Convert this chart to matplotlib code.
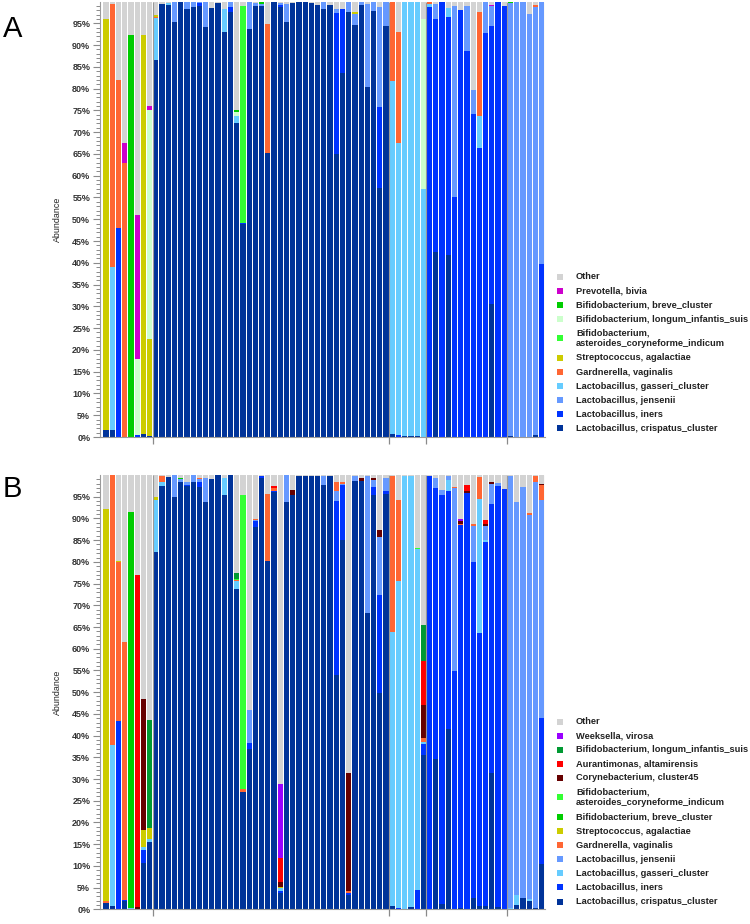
import numpy as np
import matplotlib
matplotlib.use("Agg")
import matplotlib.pyplot as plt
from matplotlib.patches import Rectangle

plt.rcParams['font.family'] = ['Liberation Sans', 'DejaVu Sans']

# ---------------- Panel A data (71 samples, % abundance) ----------------
cri_A = [1.5, 1.5, 0, 0, 0, 0, 0.6, 0.3,
         86.5, 99.5, 99.3, 95.3, 99.8, 98.2, 98.8, 99.0, 94.2, 98.5,
         99.7, 93.0, 97.6, 72.0, 49.0, 93.6, 98.9, 99.0, 65.3, 99.8,
         98.8, 95.2, 99.6, 99.9, 99.9, 99.6, 99.2, 98.2, 99.1, 65.0,
         83.5, 97.7, 94.6, 99.2, 80.3, 97.8, 57.2, 94.4,
         0.7, 0, 0.2, 0.2, 0.2, 0,
         0, 42.5, 0, 41.9, 0, 0, 0, 0, 0, 0, 30.6, 0, 0,
         0.3, 0, 0, 0, 0.5, 0]
ine_A = [0, 0, 48.0, 0, 0, 0.5, 0, 0,
         0, 0, 0, 0, 0, 0, 0, 0.7, 0, 0,
         0, 0, 1.2, 0, 0.2, 0, 0, 0, 0, 0,
         0.5, 0, 0, 0, 0, 0, 0, 0, 0, 32.3,
         14.7, 0, 0, 0, 0, 0, 18.5, 0,
         0, 0.5, 0, 0, 0, 0,
         98.8, 53.5, 99.8, 54.5, 55.0, 98.0, 88.7, 74.2, 66.4, 92.7, 63.7, 100.0, 99.0,
         0, 0, 0, 0, 0, 39.8]
jen_A = [0, 0, 0, 0, 0, 0, 0, 0,
         0, 0, 0, 4.7, 0, 1.6, 1.2, 0.3, 5.8, 0,
         0, 0, 1.2, 0, 0, 6.4, 0.8, 0.5, 0, 0,
         0.4, 4.2, 0, 0, 0, 0, 0, 1.7, 0, 1.0,
         0, 2.2, 2.6, 0.6, 19.2, 2.0, 23.0, 5.6,
         0, 0, 0, 0, 0, 0,
         0, 3.5, 0, 0, 44.0, 0, 10.3, 5.4, 0, 7.1, 4.7, 0, 0,
         99.4, 100.0, 99.8, 97.2, 98.3, 60.2]
gas_A = [0, 37.5, 0, 0, 0, 0, 0, 0,
         9.8, 0, 0.3, 0, 0, 0, 0, 0, 0, 0,
         0, 5.2, 0, 1.6, 0, 0, 0, 0, 0, 0,
         0, 0, 0, 0, 0, 0, 0, 0, 0, 0,
         0, 0, 0, 0, 0, 0, 0, 0,
         81.1, 67.0, 99.6, 99.6, 99.8, 57.0,
         0.6, 0, 0, 2.1, 0, 0, 0, 0, 7.2, 0, 0, 0, 0,
         0, 0, 0, 0, 0, 0]
gar_A = [0, 60.5, 34.0, 63.0, 0, 0, 0, 0,
         0.2, 0, 0, 0, 0, 0, 0, 0, 0, 0,
         0, 0, 0, 0, 0, 0, 0, 0, 29.5, 0,
         0, 0, 0, 0, 0, 0, 0, 0, 0, 0,
         0, 0, 0, 0, 0, 0, 0, 0,
         18.2, 25.5, 0, 0, 0, 0,
         0.6, 0, 0, 0, 0, 0, 0, 0, 23.9, 0, 0, 0, 0,
         0, 0, 0, 0, 0.5, 0]
strep_A = [94.5, 0, 0, 0, 0, 0, 91.7, 22.2,
           0.4, 0, 0, 0, 0, 0, 0, 0, 0, 0,
           0, 0, 0, 0, 0, 0, 0, 0, 0, 0,
           0, 0, 0, 0, 0, 0, 0, 0, 0, 0,
           0, 0, 0.3, 0, 0, 0, 0, 0,
           0, 0, 0, 0, 0, 0,
           0, 0, 0, 0, 0, 0, 0, 0, 0, 0, 0, 0, 0,
           0, 0, 0, 0, 0, 0]
ast_A = [0, 0, 0, 0, 0, 0, 0, 0,
         0, 0, 0, 0, 0, 0, 0, 0, 0, 0,
         0, 0, 0, 0, 49.8, 0, 0, 0, 0, 0,
         0, 0, 0, 0, 0, 0, 0, 0, 0, 0,
         0, 0, 0, 0, 0, 0, 0, 0,
         0, 0, 0, 0, 0, 0,
         0, 0, 0, 0, 0, 0, 0, 0, 0, 0, 0, 0, 0,
         0, 0, 0, 0, 0, 0]
lon_A = [0, 0, 0, 0, 0, 17.5, 0, 52.5,
         0, 0, 0, 0, 0, 0, 0, 0, 0, 0,
         0, 0, 0, 1.0, 0, 0, 0, 0, 0, 0,
         0, 0, 0, 0, 0, 0, 0, 0, 0, 0,
         0, 0, 0, 0, 0, 0, 0, 0,
         0, 0, 0, 0, 0, 39.0,
         0, 0, 0, 0, 0, 0, 0, 0, 0, 0, 0, 0, 0,
         0, 0, 0, 0, 0, 0]
bre_A = [0, 0, 0, 0, 92.3, 0, 0, 0,
         0, 0, 0, 0, 0, 0, 0, 0, 0, 0,
         0, 0, 0, 0.5, 0, 0, 0, 0.3, 0, 0,
         0, 0, 0, 0, 0, 0, 0, 0, 0, 0,
         0, 0, 0, 0, 0, 0, 0, 0,
         0, 0, 0, 0, 0, 0,
         0, 0, 0, 0, 0, 0, 0, 0, 0, 0, 0, 0, 0,
         0.3, 0, 0, 0, 0, 0]
prev_A = [0, 0, 0, 4.5, 0, 33.0, 0, 1.0,
          0, 0, 0, 0, 0, 0, 0, 0, 0, 0,
          0, 0, 0, 0, 0, 0, 0, 0, 0, 0,
          0, 0, 0, 0, 0, 0, 0, 0, 0, 0,
          0, 0, 0, 0, 0, 0, 0, 0,
          0, 0, 0, 0, 0, 0,
          0, 0, 0, 0, 0, 0, 0, 0, 0, 0, 0.3, 0, 0,
          0, 0, 0, 0, 0, 0]

# ---------------- Panel B data ----------------
cri_B = [1.5, 0.7, 0, 1.8, 0, 0, 10.6, 15.6,
         82.2, 97.5, 99.5, 95.0, 98.5, 97.5, 98.5, 97.3, 93.8, 99.0,
         99.9, 95.3, 99.9, 73.8, 27.0, 37.0, 88.0, 99.3, 80.2, 96.0,
         3.8, 93.7, 95.5, 99.8, 99.8, 99.8, 99.8, 97.6, 99.8, 54.0,
         85.0, 3.2, 98.6, 98.7, 68.2, 95.5, 49.7, 95.6,
         0.7, 0, 0, 0.5, 0, 35.5,
         0, 34.5, 1.3, 41.5, 0, 0.2, 0, 2.5, 0.7, 0.8, 31.3, 0.5, 0,
         0, 1.0, 2.5, 2.0, 0.2, 10.5]
ine_B = [0, 0, 43.4, 0.4, 0, 0, 3.1, 0,
         0, 0, 0, 0, 0, 0.3, 0, 1.0, 0, 0,
         0, 0, 0, 0, 0, 1.3, 1.3, 0.4, 0, 0.3,
         0.5, 0, 0, 0, 0, 0, 0, 0, 0, 40.0,
         12.7, 0.5, 0, 0, 0, 1.7, 22.7, 0.7,
         0, 0.3, 0, 0, 4.4, 2.5,
         99.8, 62.4, 94.2, 54.8, 54.8, 88.2, 95.8, 77.5, 62.9, 83.7, 62.0, 96.9, 96.8,
         0, 0, 0, 0, 0, 33.5]
gas_B = [0, 37.1, 0, 0, 0.2, 0, 0.6, 0.7,
         12.1, 1.0, 0, 0, 0, 0, 0, 0, 0, 0,
         0, 4.0, 0, 1.7, 0, 0, 0, 0, 0, 0,
         0.5, 0, 0, 0, 0, 0, 0, 0, 0, 0,
         0, 0, 0, 0, 0, 0, 0, 0,
         63.1, 75.3, 99.8, 99.3, 78.6, 0.5,
         0, 0, 0, 2.5, 0, 0, 0, 0, 30.9, 0.5, 0, 0, 0,
         0.3, 2.4, 0, 0.3, 0, 0]
jen_B = [0, 0, 0, 0, 0, 0, 0, 0,
         0, 0, 0, 5.0, 0.5, 0.5, 1.5, 0.7, 5.5, 0,
         0, 0, 0, 0, 0, 7.5, 0.3, 0, 0, 0,
         0, 6.2, 0, 0, 0, 0, 0, 2.2, 0, 2.4,
         0.3, 0, 1.2, 0, 31.6, 1.6, 13.4, 3.0,
         0, 0, 0, 0, 0, 0,
         0, 2.3, 1.0, 1.0, 42.2, 0, 0, 8.3, 0, 3.3, 4.7, 0.8, 0,
         99.5, 90.4, 94.8, 88.5, 98.3, 50.3]
gar_B = [0.3, 62.2, 36.6, 59.3, 0, 0, 0, 0,
         0, 1.3, 0, 0, 0, 0, 0, 0.3, 0, 0,
         0, 0, 0, 0.3, 0.8, 0.2, 0.3, 0, 15.5, 0.7,
         0, 0, 0, 0, 0, 0, 0, 0, 0, 2.1,
         0.3, 0.6, 0, 0, 0, 0, 0, 0,
         36.0, 18.6, 0, 0, 0, 1.0,
         0, 0, 0, 0, 0.3, 0.4, 0, 0.5, 5.0, 0, 0, 0, 0,
         0, 0, 0, 0.4, 1.2, 3.4]
strep_B = [90.4, 0, 0.3, 0, 0, 0, 3.9, 2.5,
           0.7, 0, 0, 0, 0, 0, 0, 0, 0, 0,
           0, 0, 0, 0, 0, 0, 0, 0, 0, 0,
           0.4, 0, 0, 0, 0, 0, 0, 0, 0, 0,
           0, 0, 0, 0, 0, 0, 0, 0,
           0, 0, 0, 0, 0, 0,
           0, 0, 0, 0, 0, 0, 0, 0, 0, 0, 0, 0, 0,
           0, 0, 0, 0, 0, 0]
bre_B = [0, 0, 0, 0, 91.2, 0, 0, 0,
         0, 0, 0, 0, 0.4, 0, 0, 0, 0, 0,
         0, 0, 0, 0, 0, 0, 0, 0, 0, 0,
         0, 0, 0, 0, 0, 0, 0, 0, 0, 0,
         0, 0, 0, 0, 0, 0, 0, 0,
         0, 0, 0, 0, 0, 0,
         0, 0, 0, 0, 0, 0, 0, 0, 0, 0, 0, 0, 0,
         0, 0, 0, 0, 0, 0]
ast_B = [0, 0, 0, 0, 0, 0, 0, 0,
         0, 0, 0, 0, 0, 0, 0, 0, 0, 0,
         0, 0, 0, 0.2, 67.5, 0, 0, 0, 0, 0,
         0, 0, 0, 0, 0, 0, 0, 0, 0, 0,
         0, 0, 0, 0, 0, 0, 0, 0,
         0, 0, 0, 0, 0.3, 0,
         0, 0, 0, 0, 0, 0, 0, 0, 0, 0, 0, 0, 0,
         0, 0, 0, 0, 0, 0]
cor_B = [0, 0, 0, 0, 0, 0.6, 30.3, 0,
         0, 0, 0, 0, 0, 0, 0, 0, 0, 0,
         0, 0, 0, 0, 0, 0, 0, 0, 0, 0,
         1.0, 0, 1.0, 0, 0, 0, 0, 0, 0, 0,
         0, 27.0, 0, 0.5, 0, 0.5, 1.5, 0,
         0, 0, 0, 0, 0, 7.5,
         0, 0, 0, 0, 0, 0.6, 0.5, 0, 0, 0.4, 0.3, 0, 0,
         0, 0, 0, 0, 0, 0.3]
aur_B = [0, 0, 0, 0, 0, 76.4, 0, 0,
         0, 0, 0, 0, 0, 0, 0, 0, 0, 0,
         0, 0, 0, 0, 0, 0, 0, 0, 0, 0.5,
         5.6, 0, 0, 0, 0, 0, 0, 0, 0, 0,
         0, 0, 0, 0, 0, 0, 0, 0,
         0, 0, 0, 0, 0, 10.2,
         0, 0, 0, 0, 0, 0, 1.5, 0, 0, 0.9, 0, 0, 0,
         0, 0, 0, 0, 0, 0]
lon_B = [0, 0, 0, 0, 0, 0, 0, 24.8,
         0, 0, 0, 0, 0, 0, 0, 0, 0, 0,
         0, 0, 0, 1.5, 0, 0, 0, 0, 0, 0,
         0, 0, 0, 0, 0, 0, 0, 0, 0, 0,
         0, 0, 0, 0, 0, 0, 0, 0,
         0, 0, 0, 0, 0, 8.3,
         0, 0, 0, 0, 0, 0, 0, 0, 0, 0, 0, 0, 0,
         0, 0, 0, 0, 0, 0]
wee_B = [0, 0, 0, 0, 0, 0, 0, 0,
         0, 0, 0, 0, 0, 0, 0, 0, 0, 0,
         0, 0, 0, 0, 0, 0, 0, 0, 0, 0,
         17.0, 0, 0, 0, 0, 0, 0, 0, 0, 0,
         0, 0, 0, 0, 0, 0, 0, 0,
         0, 0, 0, 0, 0, 0,
         0, 0, 0, 0, 0, 0.5, 0, 0, 0, 0, 0, 0, 0,
         0, 0, 0, 0, 0, 0]

group_bounds = [7.5, 45.5, 51.5, 64.5]

C = {
    'other': '#D3D3D3', 'prev': '#CC00CC', 'bre': '#00CC00', 'lonA': '#CCFFCC',
    'ast': '#33FF33', 'strep': '#CCCC00', 'gar': '#FF6633', 'gas': '#66CCFF',
    'jen': '#6699FF', 'ine': '#0033FF', 'cri': '#003399', 'wee': '#9900FF',
    'lonB': '#009933', 'aur': '#FF0000', 'cor': '#660000',
}

# stacking order bottom -> top
layers_A = [(cri_A, C['cri']), (ine_A, C['ine']), (jen_A, C['jen']), (gas_A, C['gas']),
            (gar_A, C['gar']), (strep_A, C['strep']), (ast_A, C['ast']), (lon_A, C['lonA']),
            (bre_A, C['bre']), (prev_A, C['prev'])]
layers_B = [(cri_B, C['cri']), (ine_B, C['ine']), (gas_B, C['gas']), (jen_B, C['jen']),
            (gar_B, C['gar']), (strep_B, C['strep']), (bre_B, C['bre']), (ast_B, C['ast']),
            (cor_B, C['cor']), (aur_B, C['aur']), (lon_B, C['lonB']), (wee_B, C['wee'])]

legend_A = [("Other", C['other']), ("Prevotella, bivia", C['prev']),
            ("Bifidobacterium, breve_cluster", C['bre']),
            ("Bifidobacterium, longum_infantis_suis", C['lonA']),
            ("Bifidobacterium,\nasteroides_coryneforme_indicum", C['ast']),
            ("Streptococcus, agalactiae", C['strep']), ("Gardnerella, vaginalis", C['gar']),
            ("Lactobacillus, gasseri_cluster", C['gas']), ("Lactobacillus, jensenii", C['jen']),
            ("Lactobacillus, iners", C['ine']), ("Lactobacillus, crispatus_cluster", C['cri'])]
legend_B = [("Other", C['other']), ("Weeksella, virosa", C['wee']),
            ("Bifidobacterium, longum_infantis_suis", C['lonB']),
            ("Aurantimonas, altamirensis", C['aur']), ("Corynebacterium, cluster45", C['cor']),
            ("Bifidobacterium,\nasteroides_coryneforme_indicum", C['ast']),
            ("Bifidobacterium, breve_cluster", C['bre']), ("Streptococcus, agalactiae", C['strep']),
            ("Gardnerella, vaginalis", C['gar']), ("Lactobacillus, jensenii", C['jen']),
            ("Lactobacillus, gasseri_cluster", C['gas']), ("Lactobacillus, iners", C['ine']),
            ("Lactobacillus, crispatus_cluster", C['cri'])]

W, H = 750, 924
fig = plt.figure(figsize=(W / 100, H / 100), dpi=100)


def draw_panel(ax, layers):
    n = len(layers[0][0])
    for vals, _ in layers:
        assert len(vals) == n, len(vals)
    x = np.arange(n)
    bottom = np.zeros(n)
    for vals, col in layers:
        v = np.asarray(vals, dtype=float)
        m = v > 0
        ax.bar(x[m], v[m], bottom=bottom[m], width=0.84, color=col, linewidth=0)
        bottom += v
    other = np.clip(100 - bottom, 0, None)
    m = other > 0
    ax.bar(x[m], other[m], bottom=bottom[m], width=0.84, color=C['other'], linewidth=0)
    ax.vlines(group_bounds + [n - 0.5], 0, 100, color='#9a9a9a', linewidth=0.8, zorder=3)
    ax.set_xlim(-0.98, n - 0.45)
    ax.set_ylim(0, 100)
    ax.set_yticks(np.arange(0, 100, 5))
    ax.set_yticklabels([f"{v}%" for v in range(0, 100, 5)], fontweight='bold',
                       fontsize=6.5, color='#333333')
    ax.set_yticks(np.arange(0, 100, 1), minor=True)
    ax.set_xticks(group_bounds)
    ax.set_xticklabels([])
    ax.tick_params(axis='y', which='major', length=5, width=0.8, color='#8a8a8a', pad=2)
    ax.tick_params(axis='y', which='minor', length=3, width=0.7, color='#8a8a8a')
    ax.tick_params(axis='x', which='major', length=5, width=0.9, color='#8a8a8a')
    for s in ['top', 'right']:
        ax.spines[s].set_visible(False)
    for s in ['left', 'bottom']:
        ax.spines[s].set_color('#9a9a9a')
        ax.spines[s].set_linewidth(0.8)


def draw_legend(entries, y_start):
    step = 14.1
    extra = 10.7
    y = y_start
    for label, col in entries:
        lines = label.split("\n")
        nl = len(lines)
        yc = y + (nl - 1) * extra / 2
        fig.patches.append(Rectangle((557 / W, 1 - (yc + 3) / H), 6 / W, 6 / H,
                                     transform=fig.transFigure, facecolor=col,
                                     edgecolor='none'))
        for k, ln in enumerate(lines):
            fig.text(576 / W, 1 - (y + k * extra) / H, ln, fontsize=6.7, fontweight='bold',
                     color='#222222', va='center', ha='left')
        y = y + (nl - 1) * extra + step


axA = fig.add_axes([100 / W, 1 - 437 / H, 445 / W, (437 - 1.5) / H])
draw_panel(axA, layers_A)
axB = fig.add_axes([100 / W, 1 - 909.3 / H, 445 / W, (909.3 - 475) / H])
draw_panel(axB, layers_B)

fig.text(57 / W, 1 - 219 / H, "Abundance", rotation=90, fontsize=6.4,
         color='#222222', ha='center', va='center')
fig.text(57 / W, 1 - 692 / H, "Abundance", rotation=90, fontsize=6.4,
         color='#222222', ha='center', va='center')

fig.text(3 / W, 1 - 29 / H, "A", fontsize=21, color='black', ha='left', va='center')
fig.text(3 / W, 1 - 489 / H, "B", fontsize=21, color='black', ha='left', va='center')

draw_legend(legend_A, 276.7)
draw_legend(legend_B, 721.6)

fig.savefig("out.png", dpi=100)
